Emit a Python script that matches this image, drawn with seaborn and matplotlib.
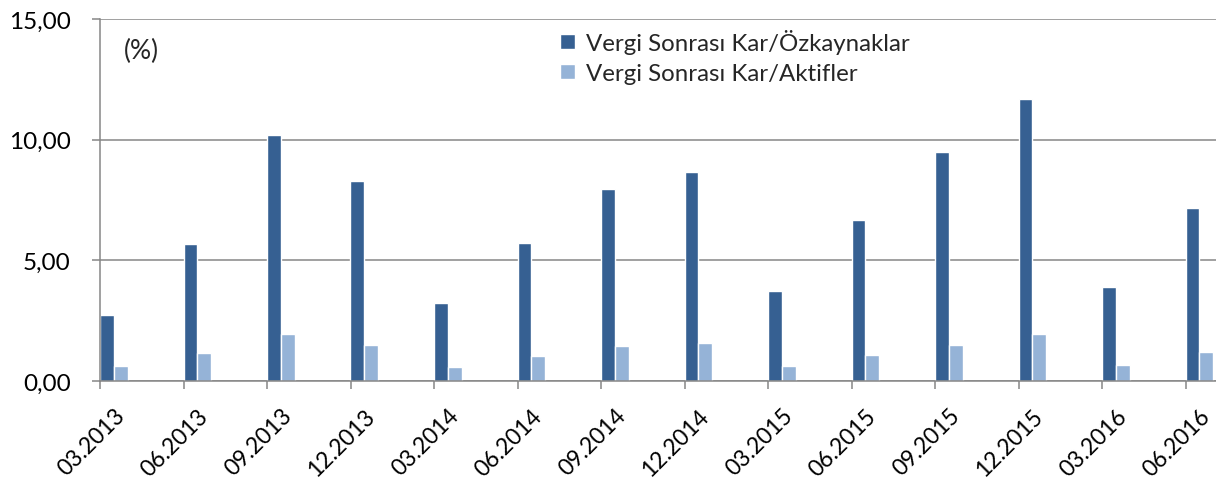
import matplotlib
matplotlib.use('Agg')
import matplotlib.pyplot as plt
import seaborn as sns
import pandas as pd
import numpy as np
from matplotlib.ticker import FuncFormatter, FixedLocator

# veriler
donemler = ['03.2013', '06.2013', '09.2013', '12.2013', '03.2014', '06.2014', '09.2014',
            '12.2014', '03.2015', '06.2015', '09.2015', '12.2015', '03.2016', '06.2016']
ozkaynak = [2.75, 5.68, 10.21, 8.28, 3.25, 5.73, 7.96, 8.66, 3.74, 6.66, 9.48, 11.67, 3.90, 7.16]
aktif = [0.61, 1.15, 1.95, 1.49, 0.57, 1.05, 1.45, 1.59, 0.64, 1.09, 1.48, 1.95, 0.66, 1.21]
seriler = ['Vergi Sonrası Kar/Özkaynaklar', 'Vergi Sonrası Kar/Aktifler']
renkler = ['#366092', '#95B3D7']

df = pd.DataFrame({
    'donem': donemler * 2,
    'deger': ozkaynak + aktif,
    'seri': [seriler[0]] * len(donemler) + [seriler[1]] * len(donemler),
})

sns.set_theme(style='white')
plt.rcParams['font.family'] = ['Lato', 'DejaVu Sans']

grid_renk = '#868686'
grup = 0.335

fig = plt.figure(figsize=(12.16, 4.81), dpi=100)
ax = fig.add_axes([100 / 1216, 1 - 382 / 481, 1116 / 1216, 362 / 481])

sns.barplot(data=df, x='donem', y='deger', hue='seri', hue_order=seriler,
            palette=renkler, saturation=1, width=grup, dodge=True, ax=ax)

ax.set_ylim(0, 15)
ax.set_yticks([0, 5, 10, 15])
ax.yaxis.set_major_formatter(FuncFormatter(lambda v, p: f'{v:.2f}'.replace('.', ',')))
ax.yaxis.grid(True, color=grid_renk, linewidth=1.1)
ax.set_axisbelow(True)

n = len(donemler)
ax.set_xlim(-grup / 2, -grup / 2 + 1116 / 83.5)
ax.set_xticks(np.arange(n))
ax.set_xticklabels(donemler, rotation=45, ha='right', rotation_mode='anchor')
ax.xaxis.set_minor_locator(FixedLocator(np.arange(n) - grup / 2))
ax.tick_params(axis='x', which='major', length=0, pad=17, labelsize=16.5, colors='black')
ax.tick_params(axis='x', which='minor', bottom=True, length=6, width=1.1, color=grid_renk)
ax.tick_params(axis='y', left=True, length=6, width=1.1, color=grid_renk, labelsize=17.5,
               labelcolor='black', pad=15)

for s in ['top', 'right']:
    ax.spines[s].set_visible(False)
for s in ['left', 'bottom']:
    ax.spines[s].set_color(grid_renk)
    ax.spines[s].set_linewidth(1.1)

ax.set_xlabel('')
ax.set_ylabel('')

ax.text(24 / 1116, (382 - 51) / 362, '(%)', transform=ax.transAxes, fontsize=19,
        va='center', ha='left')

handles, labels = ax.get_legend_handles_labels()
ax.legend(handles, labels, loc='upper left', bbox_to_anchor=(555 / 1216, 1 - 25 / 481),
          bbox_transform=fig.transFigure, frameon=False, fontsize=17.3,
          handlelength=0.62, handleheight=0.62, handletextpad=0.45, labelspacing=0.38,
          borderaxespad=0, borderpad=0.2)

fig.savefig('out.png', dpi=100)
